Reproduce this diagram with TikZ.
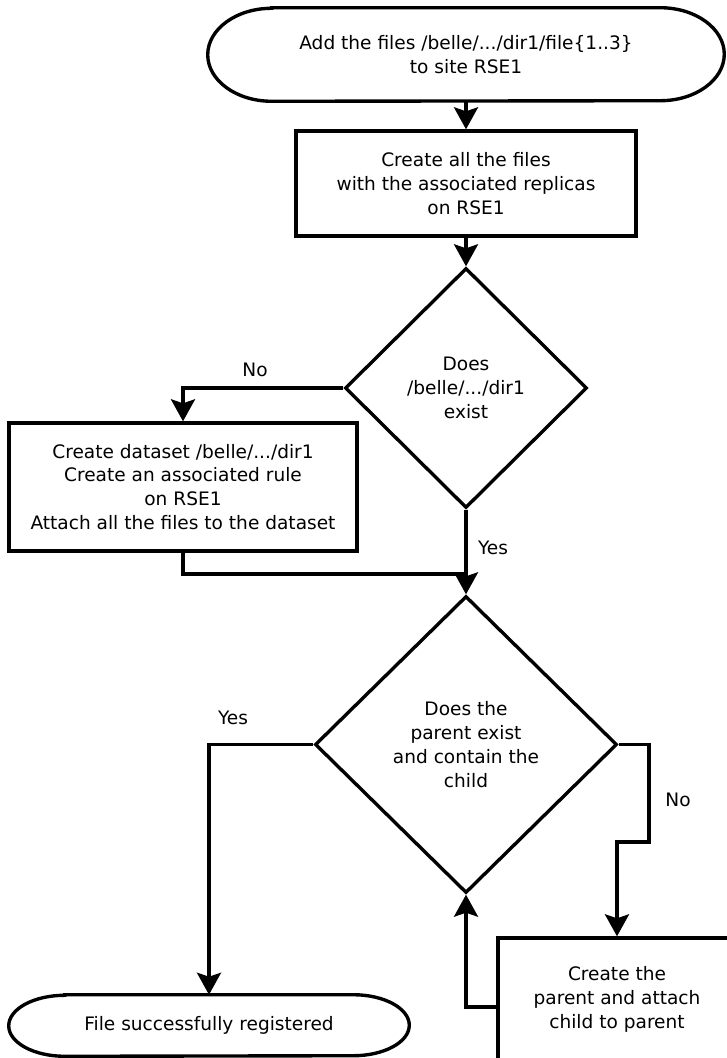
\documentclass[tikz,border=0pt]{standalone}
\usepackage{fontspec}
\setmainfont{DejaVu Sans}
\usetikzlibrary{shapes.geometric,arrows.meta}

\begin{document}
\begin{tikzpicture}[
    every node/.style={font=\fontsize{13.2}{17}\selectfont},
    line/.style={line width=2.4pt},
    arrow/.style={line, -{Stealth[length=0.55cm,width=0.6cm,inset=0.1cm]}},
    terminal/.style={align=center, inner sep=0pt},
    process/.style={draw, line, align=center, inner sep=0pt},
    decision/.style={draw, line, diamond, aspect=1, align=center, inner sep=0pt},
    tag/.style={font=\fontsize{13.2}{17}\selectfont}
  ]
    \useasboundingbox (0,0) rectangle (18.15,-26.45);
    % start and end
    \node[terminal, minimum width=12.9cm, minimum height=2.325cm]
      (start) at (11.65,-1.3625)
      {Add the files /belle/.../dir1/file\{1..3\}\\to site RSE1};
    \draw[line] ([xshift=1.6cm]start.north west) -- ([xshift=-1.6cm]start.north east)
      arc[start angle=90, end angle=-90, x radius=1.6cm, y radius=1.1625cm]
      -- ([xshift=1.6cm]start.south west)
      arc[start angle=270, end angle=90, x radius=1.6cm, y radius=1.1625cm] -- cycle;
    \node[terminal, minimum width=10cm, minimum height=1.525cm]
      (done) at (5.225,-25.6375) {File successfully registered};
    \draw[line] ([xshift=1.4cm]done.north west) -- ([xshift=-1.4cm]done.north east)
      arc[start angle=90, end angle=-90, x radius=1.4cm, y radius=0.7625cm]
      -- ([xshift=1.4cm]done.south west)
      arc[start angle=270, end angle=90, x radius=1.4cm, y radius=0.7625cm] -- cycle;
    % steps
    \node[process, minimum width=8.5cm, minimum height=2.625cm]
      (create) at (11.65,-4.5875)
      {Create all the files\\with the associated replicas\\on RSE1};
    \node[decision, minimum width=6.05cm, minimum height=6cm]
      (dir) at (11.65,-9.7) {Does\\/belle/.../dir1\\exist};
    \node[process, minimum width=8.7cm, minimum height=3.2cm]
      (dataset) at (4.575,-12.175)
      {Create dataset /belle/.../dir1\\Create an associated rule\\on RSE1\\Attach all the files to the dataset};
    \node[decision, minimum width=7.55cm, minimum height=7.425cm]
      (parent) at (11.65,-18.6125)
      {Does the\\parent exist\\and contain the\\child};
    \node[process, minimum width=5.95cm, minimum height=3.05cm]
      (attach) at (15.425,-24.975)
      {Create the\\parent and attach\\child to parent};
    \coordinate (join) at (11.65,-14.35);
    \coordinate (bend) at (16.225,-21.05);
    % connectors
    \draw[arrow] (start) -- (create);
    \draw[arrow] (create) -- (dir);
    \draw[arrow] (dir.west) -| (dataset.north);
    \draw[line] (dataset.south) |- (join);
    \draw[arrow] (dir.south) -- (parent.north);
    \draw[arrow] (parent.west) -| (done.north);
    \draw[arrow] (parent.east) -| (bend) -| (attach.north);
    \draw[arrow] ([yshift=-0.2cm]attach.west) -| (parent.south);
    \node[tag] at (6.375,-9.25) {No};
    \node[tag] at (12.325,-13.7) {Yes};
    \node[tag] at (5.825,-17.95) {Yes};
    \node[tag] at (16.95,-20) {No};
  \end{tikzpicture}
\end{document}
